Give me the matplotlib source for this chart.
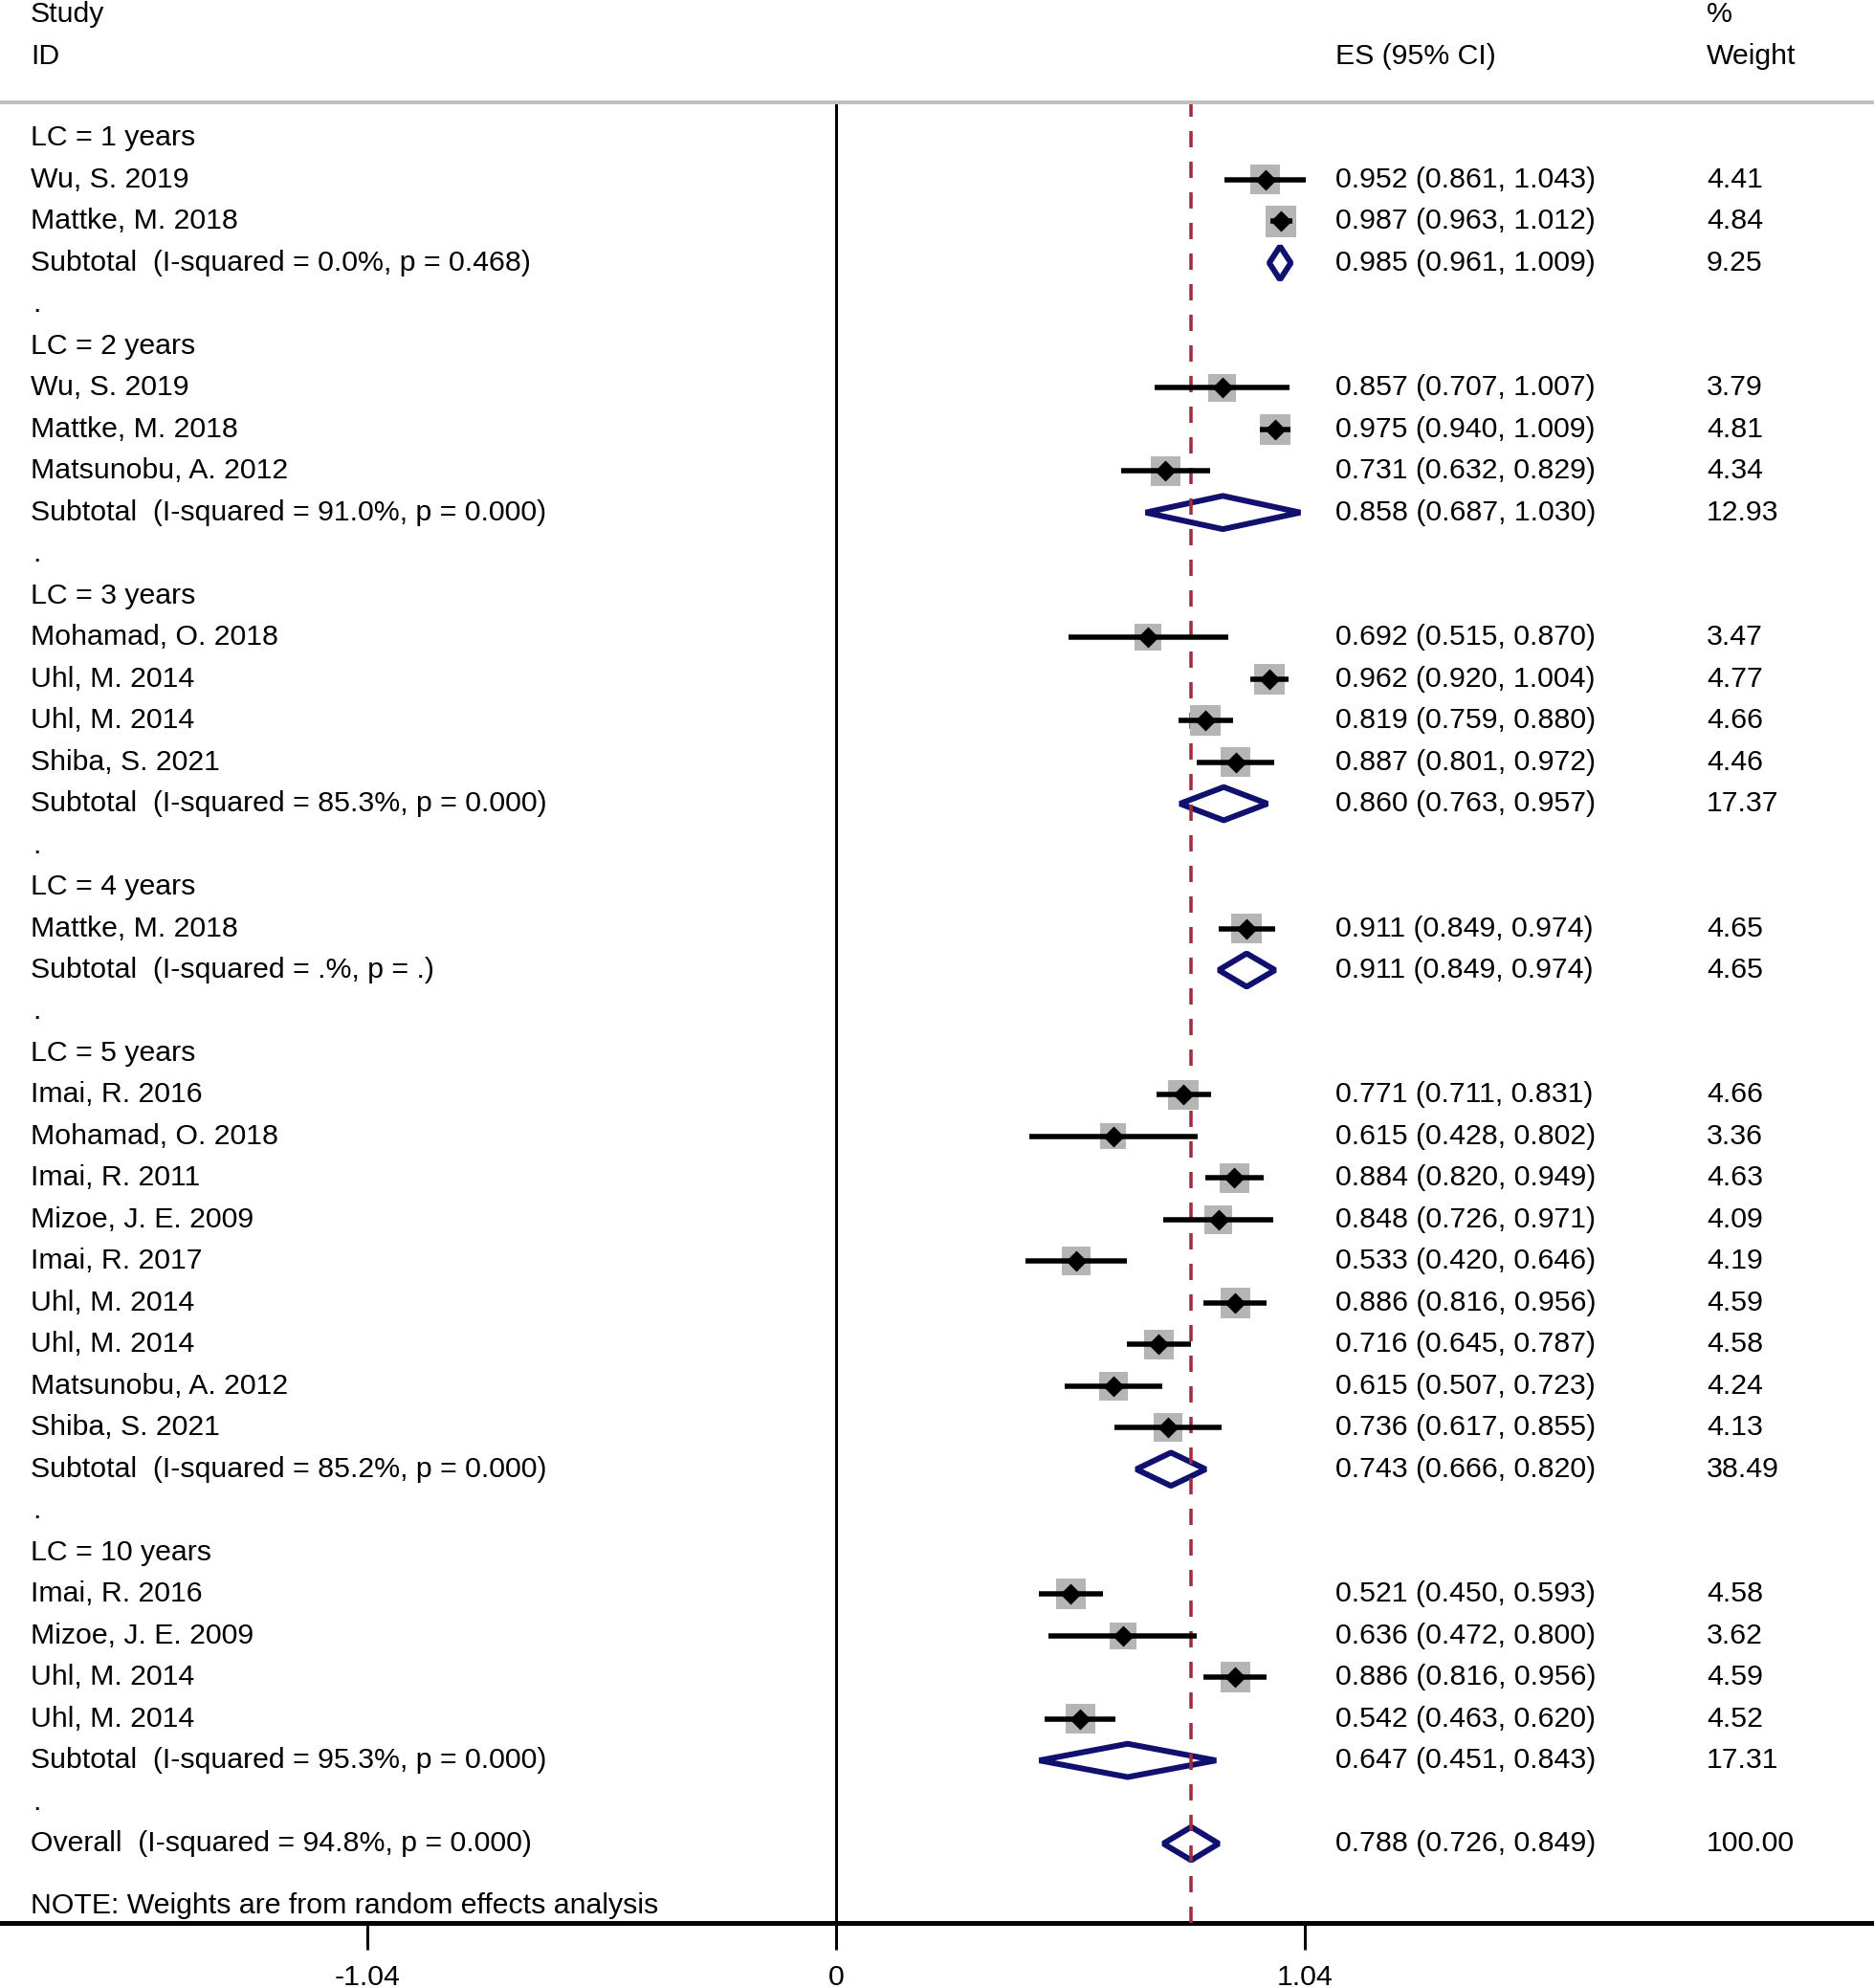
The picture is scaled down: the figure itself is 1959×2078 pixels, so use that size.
import matplotlib
matplotlib.use("Agg")
import matplotlib.pyplot as plt
from matplotlib import font_manager
from matplotlib.patches import Polygon
from matplotlib.lines import Line2D

# ---------------- data ----------------
group_names = ["LC = 1 years", "LC = 2 years", "LC = 3 years",
               "LC = 4 years", "LC = 5 years", "LC = 10 years"]
study_group = [0, 0, 1, 1, 1, 2, 2, 2, 2, 3,
               4, 4, 4, 4, 4, 4, 4, 4, 4, 5, 5, 5, 5]
study_names = ["Wu, S. 2019", "Mattke, M. 2018",
               "Wu, S. 2019", "Mattke, M. 2018", "Matsunobu, A. 2012",
               "Mohamad, O. 2018", "Uhl, M. 2014", "Uhl, M. 2014", "Shiba, S. 2021",
               "Mattke, M. 2018",
               "Imai, R. 2016", "Mohamad, O. 2018", "Imai, R. 2011", "Mizoe, J. E. 2009",
               "Imai, R. 2017", "Uhl, M. 2014", "Uhl, M. 2014", "Matsunobu, A. 2012",
               "Shiba, S. 2021",
               "Imai, R. 2016", "Mizoe, J. E. 2009", "Uhl, M. 2014", "Uhl, M. 2014"]
study_es = [0.952, 0.987, 0.857, 0.975, 0.731, 0.692, 0.962, 0.819, 0.887, 0.911,
            0.771, 0.615, 0.884, 0.848, 0.533, 0.886, 0.716, 0.615, 0.736,
            0.521, 0.636, 0.886, 0.542]
study_lo = [0.861, 0.963, 0.707, 0.940, 0.632, 0.515, 0.920, 0.759, 0.801, 0.849,
            0.711, 0.428, 0.820, 0.726, 0.420, 0.816, 0.645, 0.507, 0.617,
            0.450, 0.472, 0.816, 0.463]
study_hi = [1.043, 1.012, 1.007, 1.009, 0.829, 0.870, 1.004, 0.880, 0.972, 0.974,
            0.831, 0.802, 0.949, 0.971, 0.646, 0.956, 0.787, 0.723, 0.855,
            0.593, 0.800, 0.956, 0.620]
study_wt = [4.41, 4.84, 3.79, 4.81, 4.34, 3.47, 4.77, 4.66, 4.46, 4.65,
            4.66, 3.36, 4.63, 4.09, 4.19, 4.59, 4.58, 4.24, 4.13,
            4.58, 3.62, 4.59, 4.52]
sub_i2 = ["0.0%", "91.0%", "85.3%", ".%", "85.2%", "95.3%"]
sub_p = ["0.468", "0.000", "0.000", ".", "0.000", "0.000"]
sub_es = [0.985, 0.858, 0.860, 0.911, 0.743, 0.647]
sub_lo = [0.961, 0.687, 0.763, 0.849, 0.666, 0.451]
sub_hi = [1.009, 1.030, 0.957, 0.974, 0.820, 0.843]
sub_wt = [9.25, 12.93, 17.37, 4.65, 38.49, 17.31]
overall_i2 = "94.8%"
overall_p = "0.000"
overall_es = 0.788
overall_lo = 0.726
overall_hi = 0.849
overall_wt = 100.00
x_ticks = [-1.04, 0, 1.04]
x_tick_labels = ["-1.04", "0", "1.04"]

# ---------------- style / layout ----------------
W, H, DPI = 1959, 2078, 100
X0_PX, PPU = 874.0, 471.15          # pixel of x=0, pixels per unit
ROW0_PX, ROW_PX = 144.4, 43.48      # pixel of first row, row spacing
AX_TOP_PX, AX_BOT_PX = 107.0, 2010.0
PT = 72.0 / DPI                     # points per pixel

names = {f.name for f in font_manager.fontManager.ttflist}
if "Liberation Sans Narrow" in names:
    FAMILY, FS = "Liberation Sans Narrow", 26.3
else:
    FAMILY, FS = "Liberation Sans", 21.8
plt.rcParams["font.family"] = [FAMILY, "DejaVu Sans"]
plt.rcParams["lines.scale_dashes"] = False

NAVY = "#10106e"
RED = "#9b2d3c"
GRAY = "#b5b5b5"


def px_x(px):
    return (px - X0_PX) / PPU


def px_row(py):
    return (py - ROW0_PX) / ROW_PX


fig = plt.figure(figsize=(W / DPI, H / DPI), dpi=DPI)
ax = fig.add_axes([0, 1 - AX_BOT_PX / H, 1, (AX_BOT_PX - AX_TOP_PX) / H])
ax.set_xlim(px_x(0), px_x(W))
ax.set_ylim(px_row(AX_BOT_PX), px_row(AX_TOP_PX))

for s in ("top", "left", "right"):
    ax.spines[s].set_visible(False)
ax.spines["bottom"].set_linewidth(5 * PT)
ax.set_yticks([])
ax.set_xticks(x_ticks, x_tick_labels)
ax.tick_params(axis="x", direction="out", length=28 * PT, width=3 * PT,
               pad=11, labelsize=FS, colors="black")

# header separator
fig.add_artist(Line2D([0, 1], [1 - AX_TOP_PX / H] * 2, color="#c0c0c0",
                      lw=4 * PT, transform=fig.transFigure))

LAB_X = px_x(32)
ES_X = px_x(1396)
WT_X = px_x(1784)


def txt(x, y, s):
    ax.text(x, y, s, ha="left", va="center", fontsize=FS, color="black",
            clip_on=False)


# headers
txt(LAB_X, px_row(15), "Study")
txt(LAB_X, px_row(59), "ID")
txt(WT_X, px_row(15), "%")
txt(WT_X, px_row(59), "Weight")
txt(ES_X, px_row(59), "ES (95% CI)")

ax.axvline(0, color="black", lw=3 * PT, zorder=2)

HALF_D = 0.40
DLW = 6 * PT
row = 0
for g, gname in enumerate(group_names):
    txt(LAB_X, row, gname)
    row += 1
    idx = [i for i, gg in enumerate(study_group) if gg == g]
    for i in idx:
        txt(LAB_X, row, study_names[i])
        txt(ES_X, row, "%.3f (%.3f, %.3f)" % (study_es[i], study_lo[i], study_hi[i]))
        txt(WT_X, row, "%.2f" % study_wt[i])
        side = 14.7 * study_wt[i] ** 0.5 * PT
        ax.scatter([study_es[i]], [row], s=side ** 2, marker="s", color=GRAY,
                   edgecolors="none", zorder=7)
        ax.hlines(row, study_lo[i], study_hi[i], color="black", lw=5.5 * PT,
                  zorder=8, capstyle="butt")
        ax.plot([study_es[i]], [row], marker=[(-1, 0), (0, 1), (1, 0), (0, -1)],
                markersize=22 * PT, color="black", markeredgewidth=0, zorder=9)
        row += 1
    txt(LAB_X, row, "Subtotal  (I-squared = %s, p = %s)" % (sub_i2[g], sub_p[g]))
    txt(ES_X, row, "%.3f (%.3f, %.3f)" % (sub_es[g], sub_lo[g], sub_hi[g]))
    txt(WT_X, row, "%.2f" % sub_wt[g])
    ax.add_patch(Polygon([(sub_lo[g], row), (sub_es[g], row - HALF_D),
                          (sub_hi[g], row), (sub_es[g], row + HALF_D)],
                         closed=True, fill=False, edgecolor=NAVY, lw=DLW,
                         joinstyle="bevel", zorder=5))
    row += 1
    txt(px_x(34), row, ".")
    row += 1

txt(LAB_X, row, "Overall  (I-squared = %s, p = %s)" % (overall_i2, overall_p))
txt(ES_X, row, "%.3f (%.3f, %.3f)" % (overall_es, overall_lo, overall_hi))
txt(WT_X, row, "%.2f" % overall_wt)
ax.add_patch(Polygon([(overall_lo, row), (overall_es, row - HALF_D),
                      (overall_hi, row), (overall_es, row + HALF_D)],
                     closed=True, fill=False, edgecolor=NAVY, lw=DLW,
                     joinstyle="bevel", zorder=5))
txt(LAB_X, row + 1.5, "NOTE: Weights are from random effects analysis")

ax.axvline(overall_es, color=RED, lw=3.5 * PT,
           linestyle=(0, (17 * PT, 15 * PT)), zorder=6)

fig.savefig("out.png", dpi=DPI)
